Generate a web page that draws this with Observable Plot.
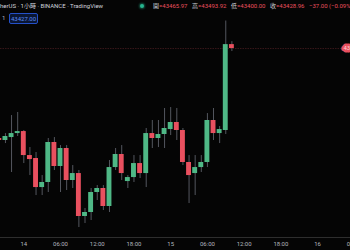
<!DOCTYPE html>
<html><head><meta charset="utf-8">
<script src="https://cdn.jsdelivr.net/npm/d3@7"></script>
<script src="https://cdn.jsdelivr.net/npm/@observablehq/plot@0.6"></script>
<style>
html,body{margin:0;padding:0;background:#050505;overflow:hidden;}
#wrap{position:relative;width:350px;height:250px;}
#hdr{position:absolute;left:0;top:0;width:350px;height:26px;font-family:Roboto,"Noto Sans CJK TC",sans-serif;font-size:6px;color:#d1d4dc;white-space:nowrap;z-index:2;pointer-events:none;}
.ab{position:absolute;line-height:8px;}
.v{color:#e9505f;margin-right:4.5px;}
.k{color:#c9ccd4;}
#buy{position:absolute;left:9px;top:13px;width:27px;height:9px;border:1px solid #2450c8;background:#0a1633;color:#5b8cf5;border-radius:2px;text-align:center;line-height:9px;font-size:6px;}
#dot{position:absolute;left:139.5px;top:3.5px;width:4px;height:4px;border-radius:50%;background:#26b58e;box-shadow:0 0 2px 1px rgba(38,181,142,0.45);}
</style></head>
<body><div id="wrap"><div id="hdr"></div><div id="chart"></div></div>
<script>
// ---- data ----
const hours  = [-4,-3,-2,-1,0,1,2,3,4,5,6,7,8,9,10,11,12,13,14,15,16,17,18,19,20,21,22,23,24,25,26,27,28,29,30,31,32,33,34];
const opens  = [42574,42555,42583,42621,42640,42412,42384,42108,42156,42536,42308,42479,42175,42241,41833,41871,42061,42099,41928,42298,42422,42165,42203,42336,42241,42621,42574,42612,42659,42726,42650,42346,42241,42298,42346,42745,42621,42650,43465.97];
const highs  = [42590,42621,42792,42821,42650,42488,42441,42222,42574,42583,42507,42507,42317,42270,41909,42099,42127,42127,42365,42479,42507,42222,42412,42412,42669,42745,42745,42859,42868,42859,42669,42412,42412,42412,42811,42859,42688,43690,43493.92];
const lows   = [42545,42526,42251,42593,42336,42222,42032,42032,42061,42270,42061,42080,42099,41728,41766,41795,41985,41890,41871,42270,42175,42099,42156,42194,42108,42479,42488,42479,42602,42555,42317,41956,42032,42251,42298,42555,42526,42612,43400.00];
const closes = [42555,42593,42621,42640,42412,42374,42108,42156,42536,42308,42479,42175,42241,41833,41871,42061,42099,41928,42298,42422,42241,42203,42336,42241,42621,42574,42612,42669,42726,42650,42346,42222,42298,42346,42745,42621,42659,43465.97,43428.96];
const tickHours  = [0,6,12,18,24,30,36,42,48,54];
const tickLabels = ["14","06:00","12:00","18:00","15","06:00","12:00","18:00","16","06:00"];
const titleText = "herUS · 1小時 · BINANCE · TradingView";
const ohlcKeys = ["開","高","低","收"];
const lastOHLC = [43465.97, 43493.92, 43400.00, 43428.96];
const changeText = "−37.00 (−0.09%)";
const buyPrice = "43427.00";
const spreadText = "1";

const UP = "#4fb886", DOWN = "#e9505f", WICK = "#54575f";
const candles = hours.map((h,i)=>({h, open:opens[i], high:highs[i], low:lows[i], close:closes[i]}));
const lastClose = closes[closes.length-1];

// header
const hdr = document.getElementById("hdr");
let html = `<span class="ab" style="left:0;top:2px">${titleText}</span><div id="dot"></div>`;
html += `<span class="ab" style="left:153px;top:2px">` + ohlcKeys.map((k,i)=>`<span class="k">${k}</span><span class="v">=${lastOHLC[i].toFixed(2)}</span>`).join("") + `<span class="v">${changeText}</span></span>`;
html += `<span class="ab" style="left:2px;top:14px;color:#b2b5be">${spreadText}</span><div id="buy">${buyPrice}</div>`;
hdr.innerHTML = html;

const chart = Plot.plot({
  width: 350, height: 250,
  marginTop: 0, marginLeft: 0, marginRight: 0, marginBottom: 13,
  style: {background: "#050505", color: "#b2b5be", fontFamily: "Roboto, sans-serif"},
  x: {domain: [-3.807, 53.38]},
  y: {domain: [41633.5, 43885], axis: null},
  marks: [
    Plot.frame({anchor: "bottom", stroke: "#2e2e2e"}),
    Plot.ruleY([lastClose], {stroke: DOWN, strokeOpacity: 0.22, strokeDasharray: "1.5,1"}),
    Plot.ruleX(candles, {x: "h", y1: "low", y2: "high", stroke: WICK}),
    Plot.rect(candles, {x1: d=>d.h-0.4, x2: d=>d.h+0.4, y1: "open", y2: "close", fill: d=> d.close>=d.open ? UP : DOWN}),
    Plot.text([lastClose], {y: d=>d, frameAnchor: "right", dx: -7, textAnchor: "start", text: d=>d.toFixed(2), fill: "#ffd0d6", stroke: DOWN, strokeWidth: 5, fontSize: 6}),
    Plot.axisX({ticks: tickHours, tickFormat: d=>tickLabels[tickHours.indexOf(d)], tickSize: 0, tickPadding: 4, fontSize: 6, fill: "#b2b5be", label: null})
  ]
});
document.getElementById("chart").appendChild(chart);
</script></body></html>
